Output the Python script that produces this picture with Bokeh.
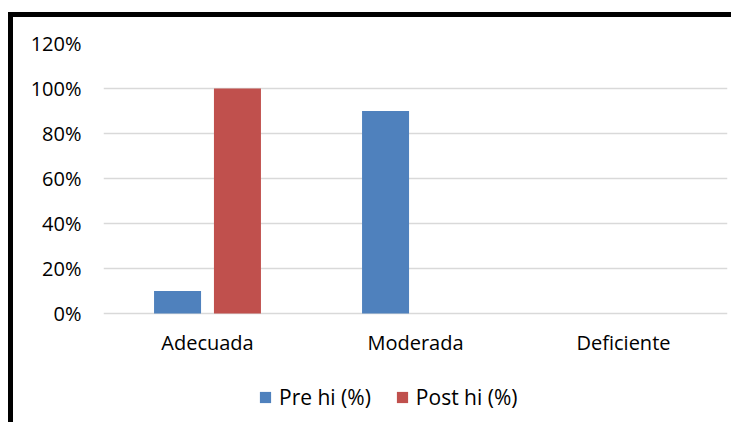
from bokeh.plotting import figure
from bokeh.models import FactorRange, NumeralTickFormatter, FixedTicker, Legend, LegendItem, Range1d
from bokeh.transform import dodge
from bokeh.embed import file_html
from bokeh.resources import INLINE
from bokeh.models import ColumnDataSource

categories = ["Adecuada", "Moderada", "Deficiente"]
pre_values = [0.10, 0.90, 0.0]
post_values = [1.00, 0.0, 0.0]
y_ticks = [0, 0.2, 0.4, 0.6, 0.8, 1.0, 1.2]
series_names = ["Pre hi (%)", "Post hi (%)"]

FONT = "Open Sans"

# layout (pixels): canvas height, top border, position of the 0% line from canvas top
CANVAS_H = 410
TOP = 26
ZERO_Y = 296
Y_MAX = 1.2
px_per_unit = (ZERO_Y - TOP) / Y_MAX
y_start = -(CANVAS_H - ZERO_Y) / px_per_unit

source = ColumnDataSource(dict(cat=categories, pre=pre_values, post=post_values))

p = figure(x_range=FactorRange(*categories), y_range=Range1d(y_start, Y_MAX),
           width=723, height=CANVAS_H, output_backend="svg", toolbar_location=None,
           min_border_left=90, min_border_right=9, min_border_top=TOP, min_border_bottom=0)
p.styles = {"margin-top": "12px", "margin-left": "8px",
            "border-top": "5px solid black", "border-left": "5px solid black"}

r_pre = p.vbar(x=dodge("cat", -0.144, range=p.x_range), top="pre", width=0.226,
               source=source, color="#4F81BD", line_color=None)
r_post = p.vbar(x=dodge("cat", 0.144, range=p.x_range), top="post", width=0.226,
                source=source, color="#C0504D", line_color=None)

p.outline_line_color = None
p.xgrid.grid_line_color = None
p.ygrid.grid_line_color = "#D9D9D9"
p.ygrid.grid_line_width = 1.5
p.yaxis.ticker = FixedTicker(ticks=y_ticks)
p.yaxis.formatter = NumeralTickFormatter(format="0%")
p.xaxis.fixed_location = 0

for ax in (p.xaxis[0], p.yaxis[0]):
    ax.axis_line_color = None
    ax.major_tick_line_color = None
    ax.minor_tick_line_color = None
    ax.major_tick_out = 0
    ax.major_tick_in = 0
    ax.major_label_text_font = FONT
    ax.major_label_text_font_size = "20px"
    ax.major_label_text_color = "#000000"
p.yaxis.major_label_standoff = 22
p.xaxis.major_label_standoff = 15

legend = Legend(items=[LegendItem(label=series_names[0], renderers=[r_pre]),
                       LegendItem(label=series_names[1], renderers=[r_post])],
                orientation="horizontal", location=(155, 16),
                glyph_width=14, glyph_height=14, label_standoff=7, spacing=24,
                padding=0, margin=0, border_line_color=None, background_fill_alpha=0,
                label_text_font=FONT, label_text_font_size="21px", label_text_color="#000000")
p.add_layout(legend, "center")

open("out.html", "w").write(file_html(p, INLINE))
